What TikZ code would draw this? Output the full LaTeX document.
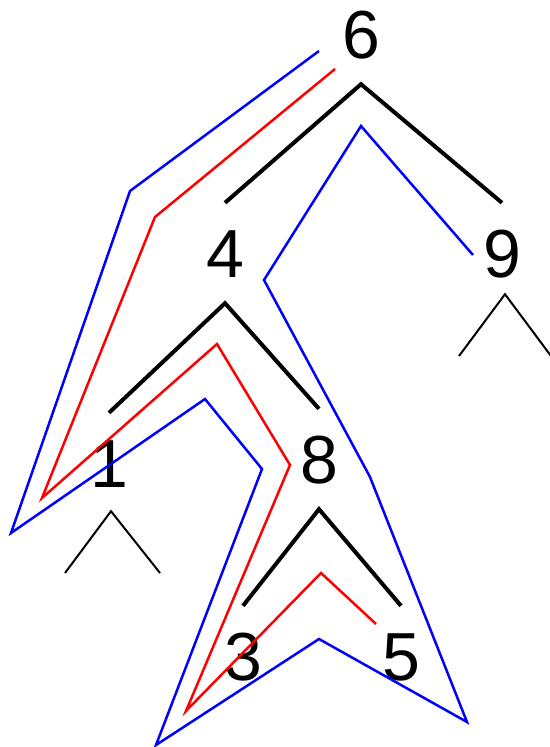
\documentclass[tikz,border=0pt]{standalone}
\usepackage{fontspec}
\setmainfont{Liberation Sans}
\usetikzlibrary{math}
\definecolor{tblue}{RGB}{0,0,255}
\definecolor{tred}{RGB}{255,0,0}
\tikzset{
  key/.style={font=\fontsize{68}{68}\selectfont, inner sep=0pt, text height=49pt, text depth=0pt, minimum height=100pt},
  edge/.style={line width=4pt},
  stub/.style={line width=2pt},
  walk/.style={line width=2.5pt}
}

\begin{document}
\begin{tikzpicture}[x=1pt,y=-1pt]
\useasboundingbox (0,0) rectangle (549,747);

% keys
\node[key] (n6) at (361,34) {6};
\node[key] (n4) at (225,253) {4};
\node[key] (n9) at (502,253) {9};
\node[key] (n1) at (109,463) {1};
\node[key] (n8) at (319,459) {8};
\node[key] (n3) at (243,656) {3};
\node[key] (n5) at (401,656) {5};

% empty subtrees
\coordinate (n1l) at (65,573);
\coordinate (n1r) at (160,573);
\coordinate (n9l) at (459,356);
\coordinate (n9r) at (551,356);

\draw[edge] (n4.north) -- (n6.south) -- (n9.north);
\draw[edge] (n1.north) -- (n4.south) -- (n8.north);
\draw[edge] (n3.north) -- (n8.south) -- (n5.north);
\draw[stub] (n1l) -- ([xshift=2pt,yshift=2pt]n1.south) -- (n1r);
\draw[stub] (n9l) -- ([xshift=3pt,yshift=9pt]n9.south) -- (n9r);

% walks
\draw[walk, color=tblue] (319,51) -- (130,191) -- (11,533) -- (205,399) -- (262,469)
  -- (156,745) -- (319,639) -- (467,722) -- (370,477) -- (264,280) -- (361,126) -- (473,255);
\draw[walk, color=tred] (335,69) -- (155,217) -- (42,498) -- (217,344) -- (290,465)
  -- (186,711) -- (321,573) -- (376,624);

\end{tikzpicture}
\end{document}
